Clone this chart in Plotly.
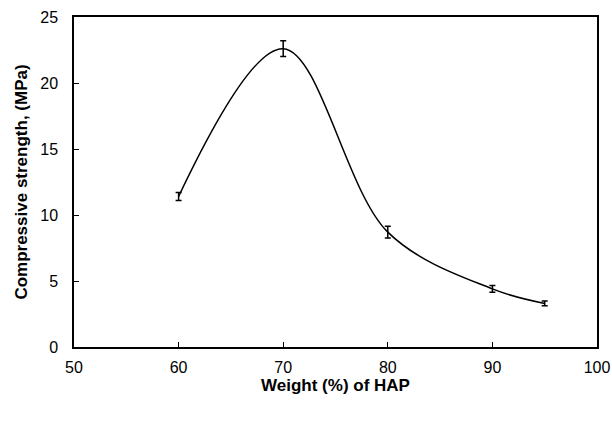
import plotly.graph_objects as go

weight = [60, 70, 80, 90, 95]
strength = [11.4, 22.6, 8.7, 4.4, 3.3]
err = [0.3, 0.6, 0.45, 0.25, 0.18]

fig = go.Figure()
fig.add_trace(go.Scatter(
    x=weight, y=strength, mode="lines",
    line=dict(color="black", width=1.5, shape="spline", smoothing=1.0),
    error_y=dict(type="data", array=err, visible=True, color="black", thickness=1.5, width=3),
    showlegend=False,
))

axis_common = dict(
    showline=True, linecolor="black", linewidth=1.5, mirror=True,
    ticks="inside", ticklen=5, tickcolor="black", tickwidth=1,
    showgrid=False, zeroline=False, automargin=False,
    tickfont=dict(family="Liberation Sans, Arial", size=16, color="black"),
)
fig.update_xaxes(range=[50, 100], dtick=10, ticklabelstandoff=5, **axis_common,
                 title=dict(text="<b>Weight (%) of HAP</b>",
                            font=dict(family="Liberation Sans, Arial", size=17, color="black"),
                            standoff=3))
fig.update_yaxes(range=[0, 25], dtick=5, ticklabelstandoff=11, **axis_common,
                 title=dict(text="<b>Compressive strength, (MPa)</b>",
                            font=dict(family="Liberation Sans, Arial", size=17, color="black"),
                            standoff=8))
fig.update_layout(
    width=612, height=422,
    margin=dict(l=74, r=15, t=17, b=75),
    plot_bgcolor="white", paper_bgcolor="white",
)
fig.write_html("out.html")
